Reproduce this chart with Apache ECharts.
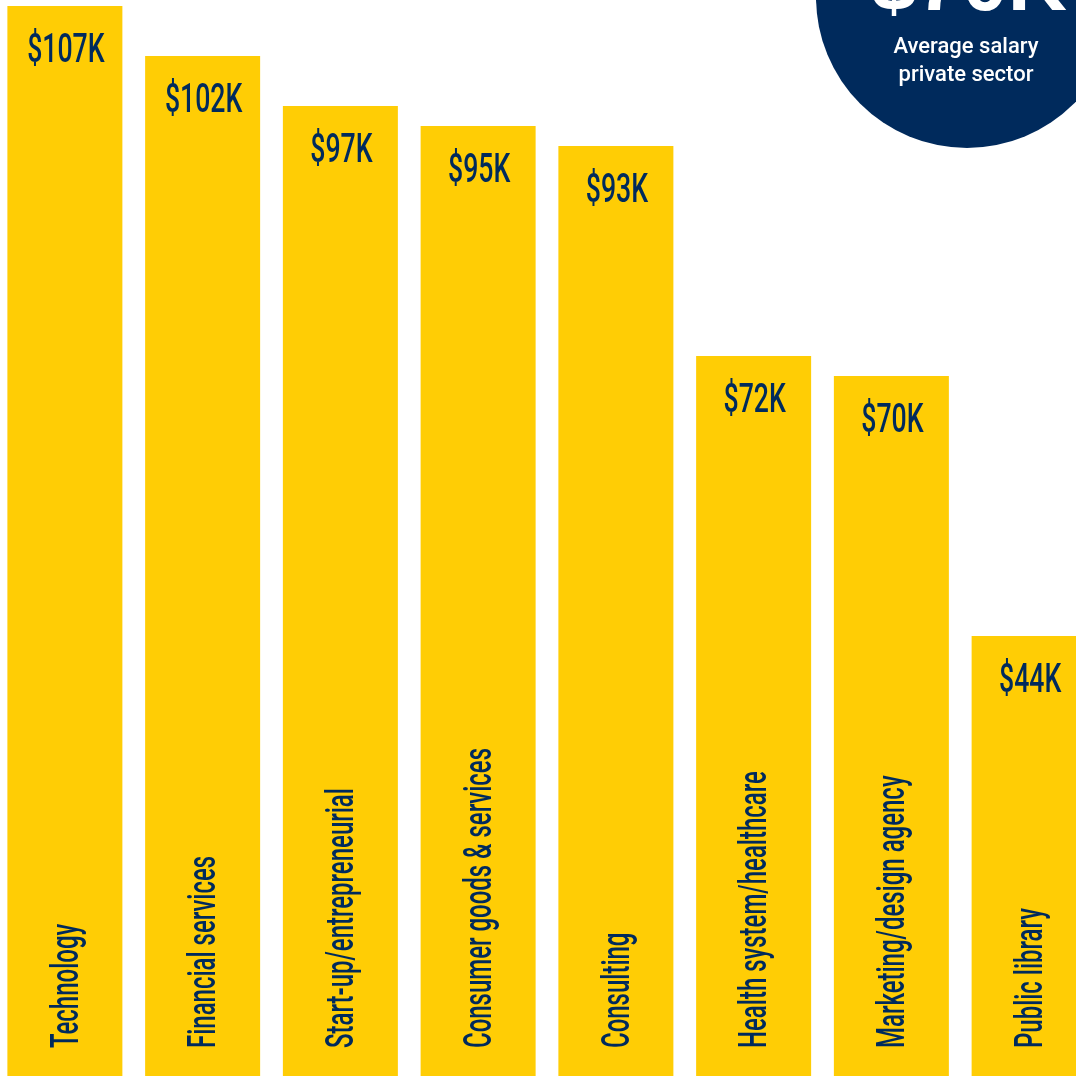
<!DOCTYPE html>
<html>
<head>
<meta charset="utf-8">
<script src="https://cdn.jsdelivr.net/npm/echarts@6/dist/echarts.min.js"></script>
<style>
  html, body { margin: 0; padding: 0; background: #fff; }
  #main { width: 1076px; height: 1076px; }
</style>
</head>
<body>
<div id="main"></div>
<script>
// 各行业平均薪资 (单位: $K)
var categories = ['Technology', 'Financial services', 'Start-up/entrepreneurial', 'Consumer goods & services',
    'Consulting', 'Health system/healthcare', 'Marketing/design agency', 'Public library'];
var salaries = [107, 102, 97, 95, 93, 72, 70, 44];
var privateAvg = 70;

var yellow = '#FFCD05';
var navy = '#002A5C';
var font = 'Roboto, sans-serif';

var chart = echarts.init(document.getElementById('main'));

// 标签: 数值在柱顶, 行业名竖排在柱底 (窄体字用 scaleX 压缩)
function renderLabels(params, api) {
    var idx = api.value(0);
    var top = api.coord([idx, api.value(1)]);
    var bottom = api.coord([idx, 0]);
    return {
        type: 'group',
        children: [
            {
                type: 'text',
                x: top[0] + 1,
                y: top[1] + 25,
                scaleX: 0.65,
                style: {
                    text: '$' + api.value(1) + 'K',
                    fill: navy,
                    fontFamily: font,
                    fontWeight: 500,
                    fontSize: 41,
                    align: 'center',
                    verticalAlign: 'top'
                }
            },
            {
                type: 'text',
                x: bottom[0] + 3,
                y: bottom[1] - 28,
                rotation: Math.PI / 2,
                scaleX: 0.615,
                style: {
                    text: categories[idx],
                    fill: navy,
                    fontFamily: font,
                    fontWeight: 500,
                    fontSize: 39,
                    align: 'left',
                    verticalAlign: 'middle'
                }
            }
        ]
    };
}

var option = {
    animation: false,
    grid: { left: -4, right: -22, top: 0, bottom: 0, outerBoundsMode: 'none' },
    xAxis: {
        type: 'category',
        data: categories,
        show: false
    },
    yAxis: {
        type: 'value',
        min: 0,
        max: 107.6,
        show: false
    },
    series: [
        {
            type: 'bar',
            barWidth: 115,
            data: salaries,
            itemStyle: { color: yellow }
        },
        {
            type: 'custom',
            data: salaries.map(function (v, i) { return [i, v]; }),
            renderItem: renderLabels,
            z: 5
        }
    ],
    graphic: [
        {
            type: 'circle',
            shape: { cx: 967, cy: -3, r: 151 },
            style: { fill: navy }
        },
        {
            type: 'text',
            x: 969, y: 28,
            style: {
                text: '$' + privateAvg + 'K',
                fill: '#fff',
                font: 'bold 82px "Liberation Sans", sans-serif',
                align: 'center',
                verticalAlign: 'bottom'
            }
        },
        {
            type: 'text',
            x: 966, y: 47,
            style: {
                text: 'Average salary',
                fill: '#fff',
                font: '500 22px Roboto, sans-serif',
                align: 'center',
                verticalAlign: 'middle'
            }
        },
        {
            type: 'text',
            x: 966, y: 75,
            style: {
                text: 'private sector',
                fill: '#fff',
                font: '500 22px Roboto, sans-serif',
                align: 'center',
                verticalAlign: 'middle'
            }
        }
    ]
};

chart.setOption(option);
</script>
</body>
</html>
